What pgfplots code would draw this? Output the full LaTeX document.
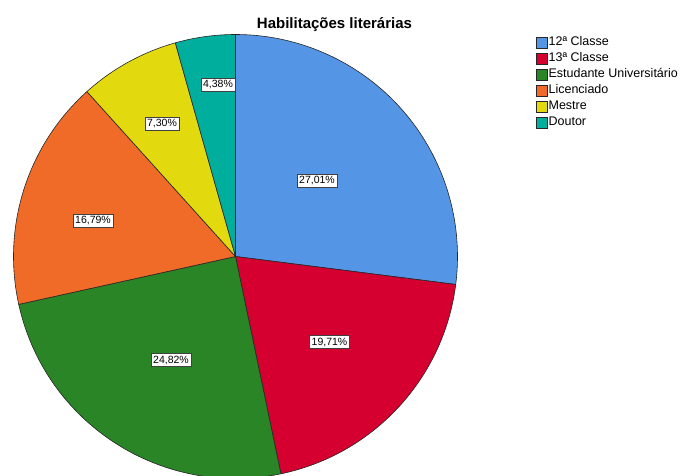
\documentclass[border=0pt]{standalone}
\usepackage{pgfplots}
\pgfplotsset{compat=1.18}
\usepackage{fontspec}
\setmainfont{Liberation Sans}
\definecolor{c1}{HTML}{5595E5}
\definecolor{c2}{HTML}{D5002F}
\definecolor{c3}{HTML}{2A8526}
\definecolor{c4}{HTML}{F16B28}
\definecolor{c5}{HTML}{E2D90E}
\definecolor{c6}{HTML}{00AE9E}
\begin{document}
\begin{tikzpicture}
\path[use as bounding box, clip] (0,0) rectangle (684pt,475pt);
% percentages
\def\vA{27.01}\def\vB{19.71}\def\vC{24.82}\def\vD{16.79}\def\vE{7.30}\def\vF{4.38}
\pgfmathsetmacro\aA{90}
\pgfmathsetmacro\aB{\aA-3.6*\vA}
\pgfmathsetmacro\aC{\aB-3.6*\vB}
\pgfmathsetmacro\aD{\aC-3.6*\vC}
\pgfmathsetmacro\aE{\aD-3.6*\vD}
\pgfmathsetmacro\aF{\aE-3.6*\vE}
\pgfmathsetmacro\aG{-270}
\def\R{222pt}
\def\C{(axis cs:235.5,218.5)}
\begin{axis}[x=1pt,y=1pt,xmin=0,xmax=684,ymin=0,ymax=475,hide axis,clip=false,
  at={(0,0)},anchor=south west,
  legend style={at={(axis cs:536,439)},anchor=north west,draw=none,fill=none,
    font=\fontsize{12.5}{13}\selectfont,row sep=3.2pt,inner sep=0pt,
    nodes={inner sep=1pt,text height=8.5pt,text depth=2.3pt}},
  legend cell align=left,
  legend image code/.code={\draw[#1] (0pt,-5.5pt) rectangle (11pt,5.5pt);}]
\addlegendimage{fill=c1,draw=black!85}\addlegendentry{12ª Classe}
\addlegendimage{fill=c2,draw=black!85}\addlegendentry{13ª Classe}
\addlegendimage{fill=c3,draw=black!85}\addlegendentry{Estudante Universitário}
\addlegendimage{fill=c4,draw=black!85}\addlegendentry{Licenciado}
\addlegendimage{fill=c5,draw=black!85}\addlegendentry{Mestre}
\addlegendimage{fill=c6,draw=black!85}\addlegendentry{Doutor}
\fill[c1,draw=black!85,line width=0.6pt,line join=round] \C -- ++(\aA:\R) arc[start angle=\aA,end angle=\aB,radius=\R] -- cycle;
\fill[c2,draw=black!85,line width=0.6pt,line join=round] \C -- ++(\aB:\R) arc[start angle=\aB,end angle=\aC,radius=\R] -- cycle;
\fill[c3,draw=black!85,line width=0.6pt,line join=round] \C -- ++(\aC:\R) arc[start angle=\aC,end angle=\aD,radius=\R] -- cycle;
\fill[c4,draw=black!85,line width=0.6pt,line join=round] \C -- ++(\aD:\R) arc[start angle=\aD,end angle=\aE,radius=\R] -- cycle;
\fill[c5,draw=black!85,line width=0.6pt,line join=round] \C -- ++(\aE:\R) arc[start angle=\aE,end angle=\aF,radius=\R] -- cycle;
\fill[c6,draw=black!85,line width=0.6pt,line join=round] \C -- ++(\aF:\R) arc[start angle=\aF,end angle=\aG,radius=\R] -- cycle;
\tikzset{lbl/.style={draw=black!75,fill=white,inner xsep=2.2pt,inner ysep=2pt,line width=0.6pt,font=\fontsize{10.5}{11}\selectfont}}
\node[lbl] at (axis cs:317,294) {27,01\%};
\node[lbl] at (axis cs:329.5,133) {19,71\%};
\node[lbl] at (axis cs:171,115) {24,82\%};
\node[lbl] at (axis cs:93,254.5) {16,79\%};
\node[lbl] at (axis cs:162,351.5) {7,30\%};
\node[lbl] at (axis cs:218,390) {4,38\%};
\node[font=\bfseries\fontsize{15}{17}\selectfont,anchor=base] at (axis cs:334.5,446.7) {Habilitações literárias};
\end{axis}
\end{tikzpicture}
\end{document}
